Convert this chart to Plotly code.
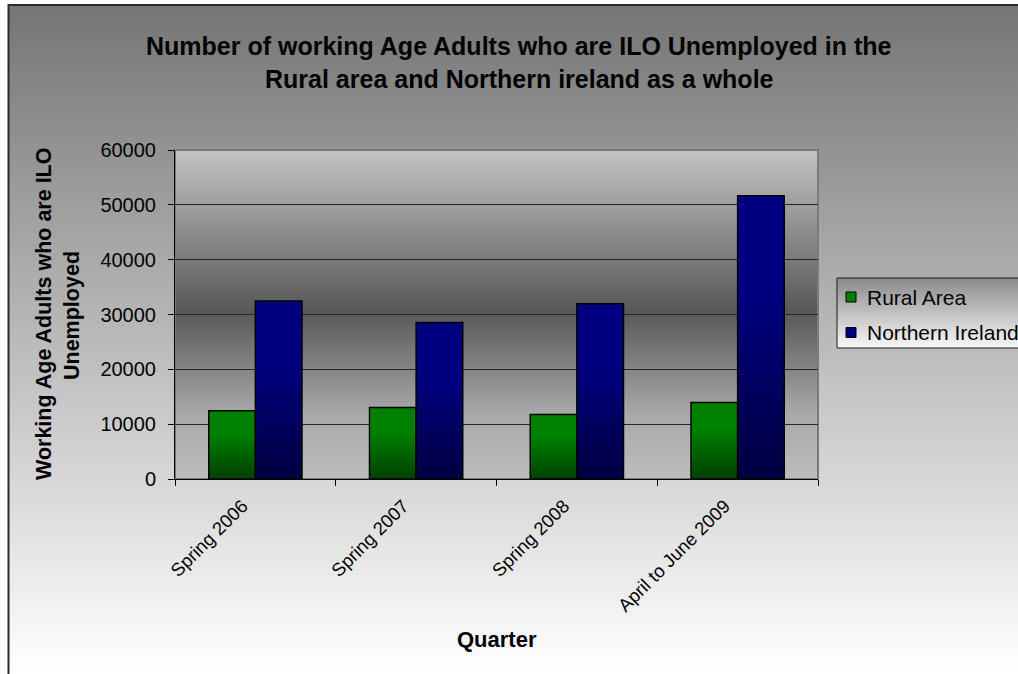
import base64
import plotly.graph_objects as go

# ---------------- data ----------------
categories = ["Spring 2006", "Spring 2007", "Spring 2008", "April to June 2009"]
rural_area = [12440, 13040, 11770, 13960]
northern_ireland = [32480, 28530, 31940, 51670]
series_names = ["Rural Area", "Northern Ireland"]
series_colors = ["#008000", "#000080"]
y_ticks = [0, 10000, 20000, 30000, 40000, 50000, 60000]

# ---------------- geometry ----------------
W, H = 1018, 674
ML, MR, MT, MB = 175, 200, 150, 195
PW, PH = W - ML - MR, H - MT - MB
BARGAP = 0.42
BW = (1 - BARGAP) / 2
FONT = "Liberation Sans, Arial, sans-serif"


def px(x):
    return (x - ML) / PW


def py(y):
    return (H - MB - y) / PH


def grad(stops):
    s = "".join(
        f'<stop offset="{o}" stop-color="{c}" stop-opacity="{a}"/>' for o, c, a in stops
    )
    svg = (
        '<svg xmlns="http://www.w3.org/2000/svg" width="100" height="100" '
        'viewBox="0 0 100 100" preserveAspectRatio="none"><defs>'
        f'<linearGradient id="g" x1="0" y1="0" x2="0" y2="1">{s}</linearGradient>'
        '</defs><rect x="0" y="0" width="100" height="100" fill="url(#g)"/></svg>'
    )
    return "data:image/svg+xml;base64," + base64.b64encode(svg.encode()).decode()


fig = go.Figure()
for name, vals, col in zip(series_names, [rural_area, northern_ireland], series_colors):
    fig.add_trace(go.Bar(
        x=categories, y=vals, name=name,
        marker=dict(color=col, line=dict(color="#000000", width=1.5)),
    ))

images = []
# chart background gradient
images.append(dict(
    source=grad([(0, "#757575", 1), (1, "#ffffff", 1)]),
    xref="paper", yref="paper", x=px(9), y=py(5), sizex=(W - 9) / PW, sizey=(H - 5) / PH,
    xanchor="left", yanchor="top", sizing="stretch", layer="below",
))
# plot area gradient
images.append(dict(
    source=grad([(0, "#c3c3c3", 1), (0.49, "#585858", 1), (0.8, "#a8a8a8", 1), (1, "#bcbcbc", 1)]),
    xref="paper", yref="paper", x=0, y=1, sizex=1, sizey=1,
    xanchor="left", yanchor="top", sizing="stretch", layer="below",
))
# legend box gradient
LEG_L, LEG_T, LEG_B = 837, 278, 348
images.append(dict(
    source=grad([(0, "#8a8a8a", 1), (1, "#f8f8f8", 1)]),
    xref="paper", yref="paper", x=px(LEG_L), y=py(LEG_T), sizex=(1040 - LEG_L) / PW,
    sizey=(LEG_B - LEG_T) / PH,
    xanchor="left", yanchor="top", sizing="stretch", layer="below",
))
# bar shading overlays (darken towards bar base)
shade = grad([(0, "#000000", 0), (0.35, "#000000", 0), (1, "#000000", 0.5)])
for i, v in enumerate(rural_area):
    images.append(dict(source=shade, xref="x", yref="y", x=i - BW, y=v, sizex=BW, sizey=v,
                       xanchor="left", yanchor="top", sizing="stretch", layer="above"))
for i, v in enumerate(northern_ireland):
    images.append(dict(source=shade, xref="x", yref="y", x=i, y=v, sizex=BW, sizey=v,
                       xanchor="left", yanchor="top", sizing="stretch", layer="above"))

shapes = [
    # chart frame (left and top edges)
    dict(type="line", xref="paper", yref="paper", x0=px(8.5), x1=px(8.5), y0=py(4), y1=py(H + 2),
         line=dict(color="#2b2b2b", width=2)),
    dict(type="line", xref="paper", yref="paper", x0=px(8), x1=px(W + 2), y0=py(5), y1=py(5),
         line=dict(color="#2b2b2b", width=2)),
    # plot area border
    dict(type="rect", xref="paper", yref="paper", x0=0, x1=1, y0=0, y1=1,
         line=dict(color="#7a7a7a", width=2), layer="below"),
    # legend border
    dict(type="rect", xref="paper", yref="paper", x0=px(LEG_L), x1=px(1040), y0=py(LEG_B),
         y1=py(LEG_T), line=dict(color="#1a1a1a", width=1)),
]

annotations = [
    dict(text="<b>Number of working Age Adults who are ILO Unemployed in the</b>",
         xref="paper", yref="paper", x=px(519), y=py(46), xanchor="center", yanchor="middle",
         showarrow=False, font=dict(size=25, color="#000000", family=FONT)),
    dict(text="<b>Rural area and Northern ireland as a whole</b>",
         xref="paper", yref="paper", x=px(519), y=py(79), xanchor="center", yanchor="middle",
         showarrow=False, font=dict(size=25, color="#000000", family=FONT)),
    dict(text="<b>Working Age Adults who are ILO</b>", textangle=-90,
         xref="paper", yref="paper", x=px(44), y=py(314), xanchor="center", yanchor="middle",
         showarrow=False, font=dict(size=21.5, color="#000000", family=FONT)),
    dict(text="<b>Unemployed</b>", textangle=-90,
         xref="paper", yref="paper", x=px(72), y=py(316), xanchor="center", yanchor="middle",
         showarrow=False, font=dict(size=21.5, color="#000000", family=FONT)),
    dict(text="<b>Quarter</b>",
         xref="paper", yref="paper", x=px(497), y=py(639), xanchor="center", yanchor="middle",
         showarrow=False, font=dict(size=22, color="#000000", family=FONT)),
]

# legend entries (drawn manually so the box can run off the right edge like the original)
for k, (name, col) in enumerate(zip(series_names, series_colors)):
    yc = 297 + 35.5 * k
    shapes.append(dict(type="rect", xref="paper", yref="paper",
                       x0=px(846), x1=px(856), y0=py(yc + 5), y1=py(yc - 5),
                       fillcolor=col, line=dict(color="#000000", width=1)))
    annotations.append(dict(text=name, xref="paper", yref="paper", x=px(865), y=py(yc),
                            xanchor="left", yanchor="middle", showarrow=False,
                            font=dict(size=21, color="#000000", family=FONT)))

fig.update_layout(
    width=W, height=H,
    margin=dict(l=ML, r=MR, t=MT, b=MB, pad=0),
    paper_bgcolor="#ffffff",
    plot_bgcolor="rgba(0,0,0,0)",
    barmode="group", bargap=BARGAP, bargroupgap=0,
    font=dict(family=FONT, color="#000000"),
    showlegend=False,
    xaxis=dict(
        type="category", range=[-0.5, len(categories) - 0.5],
        showline=True, linecolor="#000000", linewidth=1,
        ticks="outside", tickson="boundaries", ticklen=6, tickcolor="#000000",
        tickangle=-45, tickfont=dict(size=18.5, color="#000000", family=FONT),
        ticklabelstandoff=8, ticklabelshift=-13,
        showgrid=False, zeroline=False,
    ),
    yaxis=dict(
        range=[0, 60000], tickvals=y_ticks, ticktext=[str(t) for t in y_ticks],
        showline=True, linecolor="#000000", linewidth=1,
        ticks="outside", ticklen=6, tickcolor="#000000",
        tickfont=dict(size=20, color="#000000", family=FONT),
        showgrid=True, gridcolor="#262626", gridwidth=1, zeroline=False,
        ticklabelstandoff=8,
    ),
    images=images,
    shapes=shapes,
    annotations=annotations,
)

fig.write_html("out.html")
